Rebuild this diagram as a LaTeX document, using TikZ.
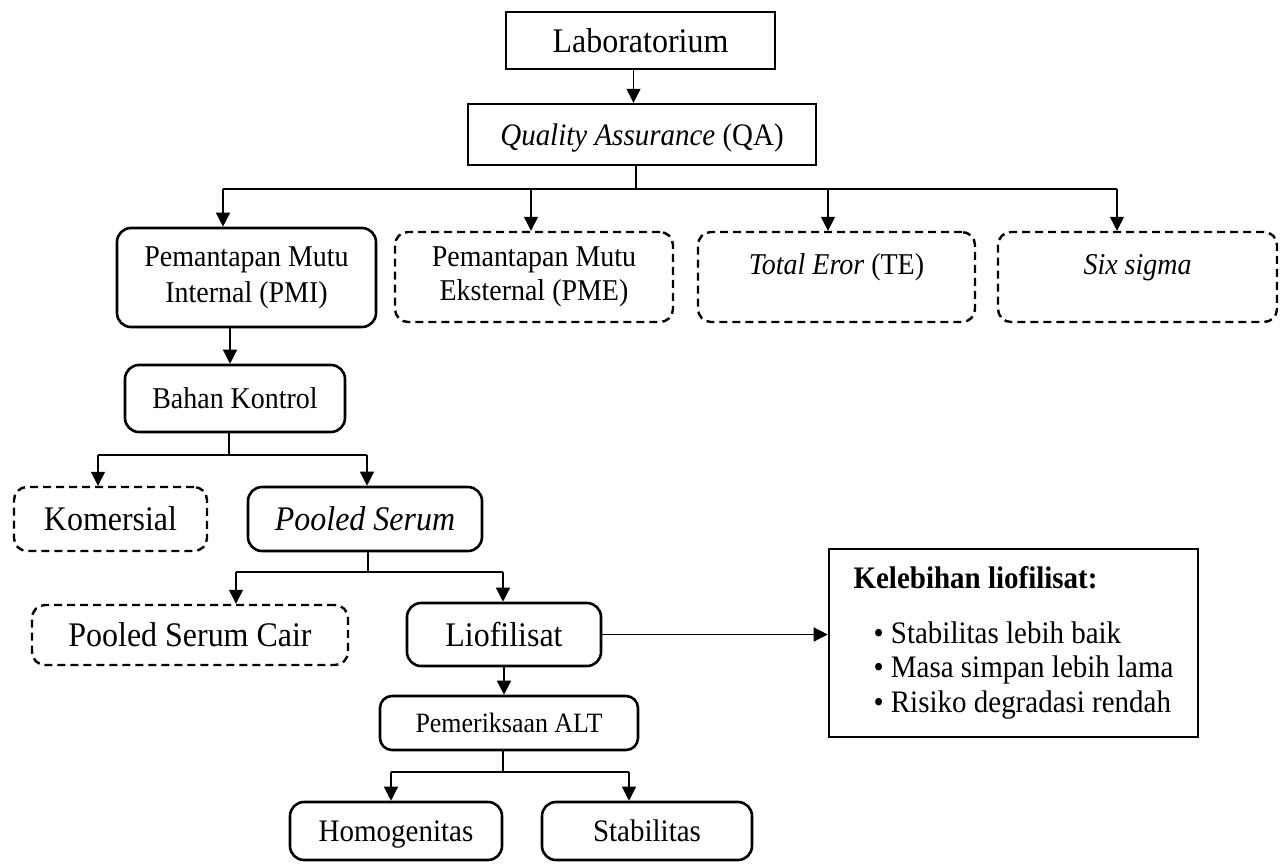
\documentclass[tikz,border=0pt]{standalone}
\usepackage{fontspec}
\setmainfont[FakeStretch=0.926]{Liberation Serif}
\usetikzlibrary{arrows.meta}

\begin{document}
\begin{tikzpicture}[x=1pt,y=-1pt]
  \tikzstyle{every node} = [inner sep=2pt, align=center]
  \tikzstyle{plainbox} = [draw, line width=2.4pt]
  \tikzstyle{solidbox} = [draw, line width=2.6pt, rounded corners=14pt]
  \tikzstyle{dashbox} = [draw, line width=2.4pt, rounded corners=13pt, dash pattern=on 8pt off 5pt]
  \tikzstyle{oneline} = [text depth=0pt]
  \tikzstyle{link} = [line width=1.3pt]
  \tikzstyle{arr} = [link, -{Triangle[length=14pt,width=14pt]}]

  \useasboundingbox (0,0) rectangle (1282,863);

  \node[plainbox, oneline, minimum width=269pt, minimum height=57pt, font=\fontsize{34.5}{38}\selectfont] (lab) at (640.5,40.5) {Laboratorium};
  \node[plainbox, oneline, minimum width=348pt, minimum height=61pt, font=\fontsize{31.3}{35}\selectfont] (qa) at (642,134.5) {\textit{Quality Assurance} (QA)};

  \node[solidbox, minimum width=259pt, minimum height=99pt, font=\fontsize{30.2}{36}\selectfont] (pmi) at (246.5,277.5) {Pemantapan Mutu\\Internal (PMI)};
  \node[dashbox, minimum width=278pt, minimum height=90pt, font=\fontsize{30.2}{34}\selectfont] (pme) at (534,277) {Pemantapan Mutu\\Eksternal (PME)};
  \node[dashbox, text height=20pt, text depth=26pt, minimum width=277pt, minimum height=90pt, font=\fontsize{30.2}{34}\selectfont] (te) at (836.5,277) {\textit{Total Eror} (TE)};
  \node[dashbox, text height=20pt, text depth=26pt, minimum width=279pt, minimum height=90pt, font=\fontsize{30.2}{34}\selectfont] (six) at (1137.5,277) {\textit{Six sigma}};

  \node[solidbox, oneline, minimum width=220pt, minimum height=67pt, font=\fontsize{30.2}{34}\selectfont] (bk) at (235,398.5) {Bahan Kontrol};
  \node[dashbox, oneline, minimum width=193pt, minimum height=64pt, font=\fontsize{34.5}{38}\selectfont] (kom) at (110.5,519) {Komersial};
  \node[solidbox, oneline, minimum width=234pt, minimum height=64pt, font=\fontsize{34.5}{38}\selectfont] (ps) at (365,519) {\textit{Pooled Serum}};
  \node[dashbox, oneline, minimum width=316pt, minimum height=60pt, font=\fontsize{34.5}{38}\selectfont] (psc) at (190,635) {Pooled Serum Cair};
  \node[solidbox, oneline, minimum width=194pt, minimum height=63pt, font=\fontsize{34.5}{38}\selectfont] (lio) at (504,634.5) {Liofilisat};
  \node[solidbox, oneline, rounded corners=12pt, minimum width=258pt, minimum height=54pt, font=\fontsize{28}{31}\selectfont] (alt) at (509,723) {Pemeriksaan ALT};
  \node[solidbox, oneline, minimum width=212pt, minimum height=58pt, font=\fontsize{31.3}{35}\selectfont] (hom) at (396,831) {Homogenitas};
  \node[solidbox, oneline, minimum width=210pt, minimum height=58pt, font=\fontsize{31.3}{35}\selectfont] (stab) at (647,831) {Stabilitas};

  \node[plainbox, line width=2.6pt, align=left, minimum width=369pt, minimum height=188pt, font=\fontsize{31.3}{34.5}\selectfont] (kel) at (1013.5,643) {\textbf{Kelebihan liofilisat:}\\[20pt]
    \hspace*{20pt}\textbullet{} Stabilitas lebih baik\\
    \hspace*{20pt}\textbullet{} Masa simpan lebih lama\\
    \hspace*{20pt}\textbullet{} Risiko degradasi rendah};

  \draw[arr] ([xshift=-7pt]lab.south) -- ([xshift=-7pt]lab.south |- qa.north);

  \coordinate (q0) at (636,189);
  \coordinate (q1) at (223,189);
  \coordinate (q2) at (531,189);
  \coordinate (q3) at (828,189);
  \coordinate (q4) at (1117,189);
  \draw[link] (q0 |- qa.south) -- (q0);
  \draw[link] (q1) -- (q4);
  \foreach \c/\n in {q1/pmi, q2/pme, q3/te, q4/six}
    \draw[arr] (\c) -- (\c |- \n.north);

  \draw[arr] ([xshift=-5pt]bk.north |- pmi.south) -- ([xshift=-5pt]bk.north);

  \coordinate (b0) at (229,455);
  \coordinate (b1) at (98,455);
  \coordinate (b2) at (367,455);
  \draw[link] (b0 |- bk.south) -- (b0);
  \draw[link] (b1) -- (b2);
  \foreach \c/\n in {b1/kom, b2/ps}
    \draw[arr] (\c) -- (\c |- \n.north);

  \coordinate (s0) at (368,572);
  \coordinate (s1) at (236,572);
  \coordinate (s2) at (503,572);
  \draw[link] (s0 |- ps.south) -- (s0);
  \draw[link] (s1) -- (s2);
  \foreach \c/\n in {s1/psc, s2/lio}
    \draw[arr] (\c) -- (\c |- \n.north);

  \draw[arr] (lio.south) -- (lio.south |- alt.north);
  \draw[arr] (lio.east) -- (lio.east -| kel.west);

  \coordinate (a0) at (503,772);
  \coordinate (a1) at (391,772);
  \coordinate (a2) at (629,772);
  \draw[link] (a0 |- alt.south) -- (a0);
  \draw[link] (a1) -- (a2);
  \foreach \c/\n in {a1/hom, a2/stab}
    \draw[arr] (\c) -- (\c |- \n.north);
\end{tikzpicture}
\end{document}
